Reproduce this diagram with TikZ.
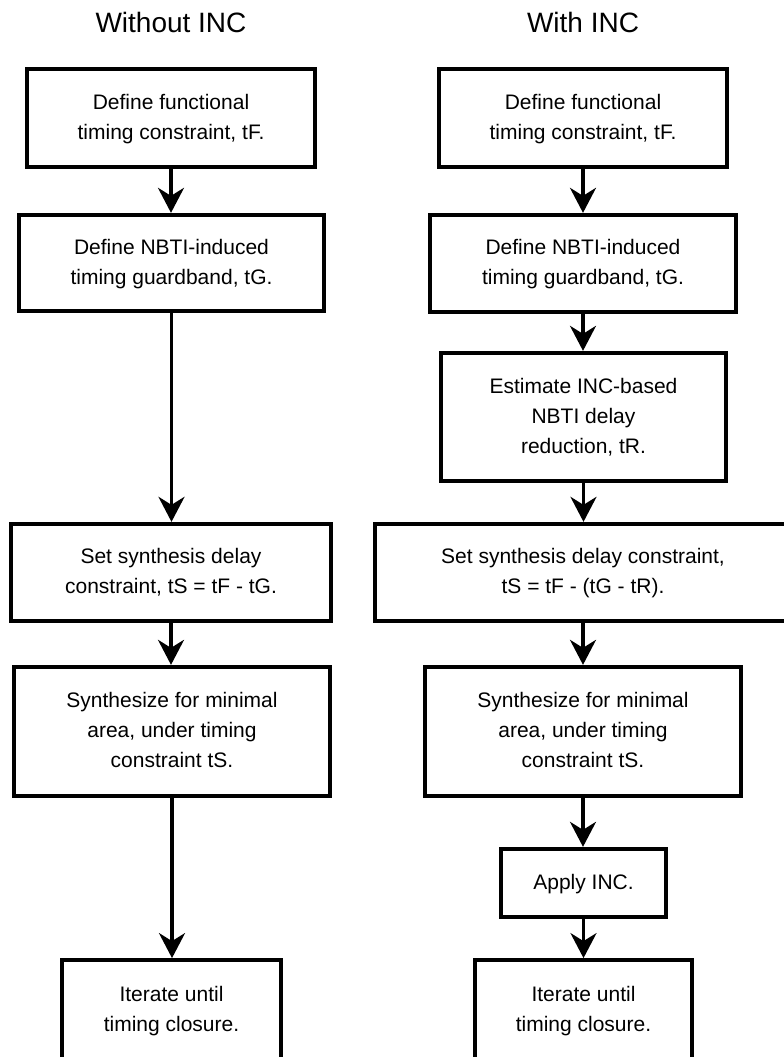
\documentclass[tikz,border=0pt]{standalone}
\usepackage{fontspec}
\setmainfont{Liberation Sans}
\usetikzlibrary{arrows.meta}
\newcommand{\bt}[1]{\raisebox{5.5pt}{\begin{tabular}{@{}c@{}}#1\end{tabular}}}
\begin{document}
\begin{tikzpicture}[x=1pt,y=-1pt,
  box/.style={draw,line width=3.8pt,rectangle,inner sep=0pt,
    font=\fontsize{21}{30}\selectfont},
  flow/.style={line width=3.3pt,-{Stealth[length=25pt,width=26pt,inset=8pt]}},
  ttl/.style={font=\fontsize{28}{32}\selectfont}]
\useasboundingbox (0,0) rectangle (784,1057);
\clip (0,0) rectangle (784,1057);
% titles
\node[ttl] (tl) at (171,22) {Without INC};
\node[ttl] (tr) at (583,22) {With INC};
% left column
\node[box,minimum width=288.5pt,minimum height=98.5pt] (L1) at (171,118)
  {\bt{Define functional\\timing constraint, tF.}};
\node[box,minimum width=305.5pt,minimum height=96.5pt] (L2) at (171.5,263)
  {\bt{Define NBTI-induced\\timing guardband, tG.}};
\node[box,minimum width=320.5pt,minimum height=97.5pt] (L3) at (171,572.5)
  {\bt{Set synthesis delay\\constraint, tS = tF - tG.}};
\node[box,minimum width=316.5pt,minimum height=129.5pt] (L4) at (172,731.5)
  {\bt{Synthesize for minimal\\area, under timing\\constraint tS.}};
\node[box,minimum width=219.5pt,minimum height=100pt] (L5) at (171.5,1010)
  {\raisebox{1pt}{\bt{Iterate until\\timing closure.}}};
% right column
\node[box,minimum width=288.5pt,minimum height=98.5pt] (R1) at (583,118)
  {\bt{Define functional\\timing constraint, tF.}};
\node[box,minimum width=306.5pt,minimum height=97.5pt] (R2) at (583,263.5)
  {\bt{Define NBTI-induced\\timing guardband, tG.}};
\node[box,minimum width=285.5pt,minimum height=128.5pt] (R3) at (583.5,417)
  {\bt{Estimate INC-based\\NBTI delay\\reduction, tR.}};
\node[box,minimum width=416.5pt,minimum height=97.5pt] (R4) at (583,572.5)
  {\bt{Set synthesis delay constraint,\\tS = tF - (tG - tR).}};
\node[box,minimum width=316.5pt,minimum height=129.5pt] (R5) at (583,731.5)
  {\bt{Synthesize for minimal\\area, under timing\\constraint tS.}};
\node[box,minimum width=165.5pt,minimum height=68.5pt] (R6) at (583.5,883)
  {\bt{Apply INC.}};
\node[box,minimum width=217.5pt,minimum height=100pt] (R7) at (583.5,1010)
  {\raisebox{1pt}{\bt{Iterate until\\timing closure.}}};
% connectors left
\draw[flow] (L1.south) -- (L1.south |- L2.north);
\draw[flow] (L2.south) -- (L2.south |- L3.north);
\draw[flow] (L3.south) -- (L3.south |- L4.north);
\draw[flow] (L4.south) -- (L4.south |- L5.north);
% connectors right
\draw[flow] (R1.south) -- (R1.south |- R2.north);
\draw[flow] (R2.south) -- (R2.south |- R3.north);
\draw[flow] (R3.south) -- (R3.south |- R4.north);
\draw[flow] (R4.south) -- (R4.south |- R5.north);
\draw[flow] (R5.south) -- (R5.south |- R6.north);
\draw[flow] (R6.south) -- (R6.south |- R7.north);
\end{tikzpicture}
\end{document}
